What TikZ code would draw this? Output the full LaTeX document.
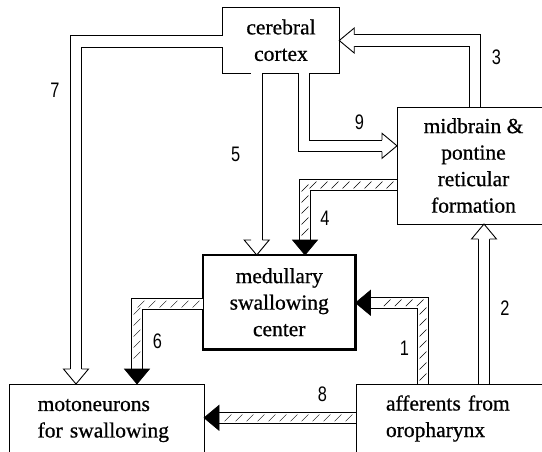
\documentclass[tikz,border=0pt]{standalone}
\usepackage{fontspec}
\usepackage{graphicx}
\setmainfont{Liberation Serif}[FakeBold=0.7]
\newfontfamily\numfont{Liberation Sans}
\usetikzlibrary{calc,decorations.markings}
\begin{document}
\begin{tikzpicture}[x=1pt,y=-1pt,
  box/.style={draw, line width=1pt, rectangle, inner sep=0pt, outer sep=0pt,
    font=\fontsize{21.5}{26.5}\selectfont, align=center},
  num/.style={font=\numfont\fontsize{21}{21}\selectfont, inner sep=0pt},
  band/.style={preaction={draw, line width=0.9pt, double=white, double distance=10.5pt, line join=miter}},
  hband/.style={band, postaction={decorate, decoration={markings,
     mark=between positions 7pt and -7pt step 11pt with {\pgftransformresetnontranslations
       \draw[line width=0.4pt] (-3.4pt,-3.4pt)--(3.4pt,3.4pt);}}}},
  ohead/.pic={\fill[white] (-15pt,12.5pt)--(0pt,0pt)--(-15pt,-12.5pt)--cycle;
    \draw[line width=0.9pt, line join=miter] (-15pt,5.7pt)--(-15pt,12.5pt)--(0pt,0pt)--(-15pt,-12.5pt)--(-15pt,-5.7pt);},
  bhead/.pic={\filldraw[line width=0.6pt, line join=miter] (-15pt,12.5pt)--(0pt,0pt)--(-15pt,-12.5pt)--cycle;}
]
\useasboundingbox (0,0) rectangle (542,451);
\clip (0,0) rectangle (542,451);
\fill[white] (0,0) rectangle (542,451);

% boxes
\node[box, minimum width=116.5pt, minimum height=65.5pt] (cortex) at (281,40.25) {cerebral\\cortex};
\node[box, minimum width=153pt, minimum height=117pt] (mid) at (473.5,165.5) {midbrain \&\\pontine\\reticular\\formation};
\node[box, line width=2.6pt, minimum width=152.5pt, minimum height=94.5pt] (med) at (279.25,302.25) {medullary\\swallowing\\center};
\node[box, minimum width=194.7pt, minimum height=73pt, text width=138pt, align=left] (moto) at (106.65,420.5) {motoneurons\\for swallowing};
\node[box, minimum width=204pt, minimum height=69pt, text width=144pt, align=left] (aff) at (458,418.5) {afferents from\\oropharynx};

% 7
\path[band] ($(cortex.west)+(0,1.25)$) -| ($(moto.north)+(-30.65,-15)$);
\pic[rotate=-90] at ($(moto.north)+(-30.65,0)$) {ohead};
% 5
\path[band] ($(cortex.south)+(-24.3,0)$) -- ($(med.north)+(-22.55,-15)$);
\pic[rotate=-90] at ($(med.north)+(-22.55,0)$) {ohead};
% 9
\path[band] ($(cortex.south)+(23,0)$) |- ($(mid.west)+(-15,-19.7)$);
\pic at ($(mid.west)+(0,-19.7)$) {ohead};
% 3
\path[band] ($(mid.north)+(1.5,0)$) |- ($(cortex.east)+(15,0.25)$);
\pic[rotate=180] at ($(cortex.east)+(0,0.25)$) {ohead};
% 4
\path[hband] ($(mid.west)+(0,19.5)$) -| ($(med.north)+(25.75,-15)$);
\pic[rotate=-90] at ($(med.north)+(25.75,0)$) {bhead};
% 2
\path[band] ($(aff.north)+(26,0)$) -- ($(mid.south)+(10.5,15)$);
\pic[rotate=90] at ($(mid.south)+(10.5,0)$) {ohead};
% 1
\path[hband] ($(aff.north)+(-35,0)$) |- ($(med.east)+(15,0.55)$);
\pic[rotate=180] at ($(med.east)+(0,0.55)$) {bhead};
% 6
\path[hband] ($(med.west)+(0,1.8)$) -| ($(moto.north)+(30.35,-15)$);
\pic[rotate=-90] at ($(moto.north)+(30.35,0)$) {bhead};
% 8
\path[hband] ($(aff.west)+(0,-0.7)$) -- ($(moto.east)+(15,-2.7)$);
\pic[rotate=180] at ($(moto.east)+(0,-2.7)$) {bhead};

% labels
\node[num] (l7) at (55,90) {\scalebox{0.78}[1]{7}};
\node[num] (l3) at (496.5,57) {\scalebox{0.78}[1]{3}};
\node[num] (l9) at (359.5,122) {\scalebox{0.78}[1]{9}};
\node[num] (l5) at (235.7,154) {\scalebox{0.78}[1]{5}};
\node[num] (l4) at (325,218) {\scalebox{0.78}[1]{4}};
\node[num] (l2) at (505,308) {\scalebox{0.78}[1]{2}};
\node[num] (l1) at (404.4,348) {\scalebox{0.78}[1]{1}};
\node[num] (l6) at (157.5,341) {\scalebox{0.78}[1]{6}};
\node[num] (l8) at (322.5,394) {\scalebox{0.78}[1]{8}};
\end{tikzpicture}
\end{document}
